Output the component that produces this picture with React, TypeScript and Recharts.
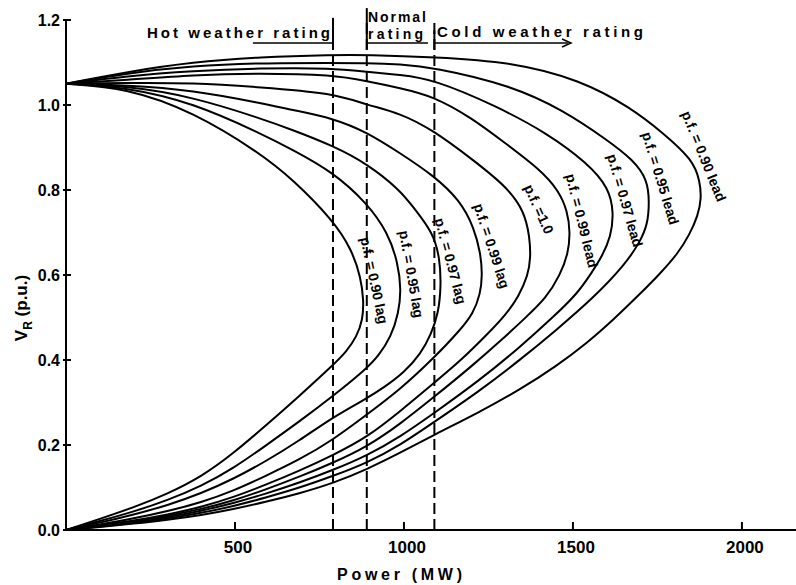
import React from 'react';
import { LineChart, Line, XAxis, YAxis, ReferenceLine, ReferenceDot, Customized } from 'recharts';

const FONT = '"Liberation Sans", Arial, Helvetica, sans-serif';

// [power MW, V_R p.u.]: upper branch, nose, lower branch
type Pt = [number, number];

const lag90: Pt[] = [
  [0, 1.05], [180, 1.04], [376, 0.984], [574, 0.887], [672, 0.824], [790, 0.729], [846, 0.659],
  [872, 0.595], [881, 0.541], [878, 0.494], [860, 0.455], [830, 0.42], [790, 0.388], [690, 0.315],
  [590, 0.245], [495, 0.18], [400, 0.125], [300, 0.085], [200, 0.053], [100, 0.026], [0, 0],
];
const lag95: Pt[] = [
  [0, 1.05], [180, 1.042], [376, 1.005], [574, 0.934], [672, 0.894], [790, 0.842], [891, 0.769],
  [952, 0.7], [982, 0.63], [992, 0.565], [984, 0.51], [962, 0.455], [925, 0.41], [890, 0.38],
  [790, 0.315], [690, 0.255], [590, 0.198], [495, 0.145], [400, 0.103], [300, 0.07], [200, 0.043],
  [100, 0.021], [0, 0],
];
const lag97: Pt[] = [
  [0, 1.05], [180, 1.045], [376, 1.019], [574, 0.969], [672, 0.941], [790, 0.904], [891, 0.862],
  [988, 0.8], [1027, 0.76], [1086, 0.7], [1106, 0.64], [1110, 0.575], [1102, 0.51], [1080, 0.46],
  [1050, 0.415], [1000, 0.37], [940, 0.335], [891, 0.31], [790, 0.266], [690, 0.21], [590, 0.161],
  [495, 0.12], [400, 0.086], [300, 0.058], [200, 0.036], [100, 0.017], [0, 0],
];
const lag99: Pt[] = [
  [0, 1.05], [180, 1.047], [376, 1.035], [574, 1.005], [672, 0.988], [790, 0.969], [891, 0.936],
  [988, 0.887], [1086, 0.835], [1166, 0.776], [1208, 0.71], [1227, 0.65], [1232, 0.6],
  [1226, 0.555], [1205, 0.51], [1166, 0.47], [1089, 0.405], [988, 0.33], [891, 0.272],
  [790, 0.212], [690, 0.165], [590, 0.127], [495, 0.092], [400, 0.065], [300, 0.044], [200, 0.027],
  [100, 0.013], [0, 0],
];
const unity: Pt[] = [
  [0, 1.05], [180, 1.052], [376, 1.052], [574, 1.042], [790, 1.028], [891, 1.0], [988, 0.981],
  [1086, 0.941], [1204, 0.871], [1305, 0.807], [1356, 0.75], [1372, 0.69], [1375, 0.64],
  [1367, 0.6], [1340, 0.55], [1300, 0.505], [1246, 0.46], [1170, 0.4], [1089, 0.346], [990, 0.28],
  [891, 0.218], [790, 0.176], [690, 0.139], [590, 0.106], [495, 0.077], [400, 0.054], [300, 0.036],
  [200, 0.022], [100, 0.011], [0, 0],
];
const lead99: Pt[] = [
  [0, 1.05], [180, 1.059], [376, 1.071], [574, 1.075], [790, 1.071], [891, 1.056], [988, 1.04],
  [1086, 1.021], [1200, 0.97], [1300, 0.91], [1400, 0.85], [1457, 0.8], [1484, 0.75], [1492, 0.7],
  [1486, 0.65], [1462, 0.6], [1420, 0.545], [1360, 0.5], [1293, 0.45], [1200, 0.385],
  [1089, 0.313], [990, 0.25], [891, 0.196], [790, 0.158], [690, 0.125], [590, 0.095], [495, 0.069],
  [400, 0.049], [300, 0.033], [200, 0.02], [100, 0.01], [0, 0],
];
const lead97: Pt[] = [
  [0, 1.05], [180, 1.068], [376, 1.08], [574, 1.087], [790, 1.087], [891, 1.078], [988, 1.071],
  [1086, 1.061], [1275, 0.997], [1423, 0.934], [1542, 0.864], [1607, 0.805], [1621, 0.745],
  [1612, 0.69], [1587, 0.645], [1555, 0.605], [1512, 0.555], [1440, 0.5], [1343, 0.43],
  [1220, 0.35], [1089, 0.275], [990, 0.22], [891, 0.175], [790, 0.141], [690, 0.111], [590, 0.085],
  [495, 0.063], [400, 0.045], [300, 0.03], [200, 0.018], [100, 0.009], [0, 0],
];
const lead95: Pt[] = [
  [0, 1.05], [180, 1.075], [376, 1.092], [574, 1.099], [790, 1.099], [891, 1.099], [988, 1.096],
  [1086, 1.089], [1314, 1.047], [1471, 0.988], [1601, 0.918], [1678, 0.871], [1721, 0.824],
  [1726, 0.77], [1721, 0.72], [1700, 0.68], [1654, 0.624], [1559, 0.545], [1450, 0.47],
  [1343, 0.4], [1220, 0.325], [1089, 0.254], [990, 0.2], [891, 0.158], [790, 0.127], [690, 0.099],
  [590, 0.076], [495, 0.056], [400, 0.04], [300, 0.027], [200, 0.016], [100, 0.008], [0, 0],
];
const lead90: Pt[] = [
  [0, 1.05], [180, 1.078], [376, 1.101], [574, 1.113], [790, 1.118], [891, 1.118], [1086, 1.113],
  [1323, 1.101], [1521, 1.059], [1669, 0.995], [1767, 0.934], [1855, 0.871], [1876, 0.82],
  [1880, 0.78], [1870, 0.74], [1845, 0.695], [1810, 0.65], [1760, 0.605], [1698, 0.555],
  [1620, 0.495], [1542, 0.44], [1450, 0.385], [1343, 0.33], [1220, 0.276], [1089, 0.224],
  [990, 0.182], [891, 0.143], [790, 0.11], [690, 0.086], [590, 0.066], [495, 0.049], [400, 0.035],
  [300, 0.024], [200, 0.015], [100, 0.007], [0, 0],
];

const curves = [lag90, lag95, lag97, lag99, unity, lead99, lead97, lead95, lead90];

// curve labels: anchor (P, V) just outside each nose, and text angle
const curveLabels = [
  { text: 'p.f. = 0.90 lag', p: 898, v: 0.585, angle: 78 },
  { text: 'p.f. = 0.95 lag', p: 1008, v: 0.6, angle: 80 },
  { text: 'p.f. = 0.97 lag', p: 1124, v: 0.63, angle: 75 },
  { text: 'p.f. = 0.99 lag', p: 1246, v: 0.665, angle: 72 },
  { text: 'p.f. =1.0', p: 1386, v: 0.75, angle: 66 },
  { text: 'p.f. = 0.99 lead', p: 1512, v: 0.725, angle: 76 },
  { text: 'p.f. = 0.97 lead', p: 1640, v: 0.772, angle: 74 },
  { text: 'p.f. = 0.95 lead', p: 1745, v: 0.824, angle: 73 },
  { text: 'p.f. = 0.90 lead', p: 1874, v: 0.875, angle: 68 },
];

const xTicks = [500, 1000, 1500, 2000];
const yTicks = [0, 0.2, 0.4, 0.6, 0.8, 1.0, 1.2];
const ratingLimits = [790, 890, 1090];
const ratingTops = [1.205, 1.228, 1.176];
const bracketLevel = 1.146;
const brackets: Pt[] = [[553, 790], [890, 1071], [1090, 1485]];

const XTick = ({ x, y, payload }: any) => (
  <g>
    <line x1={x} x2={x} y1={y} y2={y - 8} stroke="#000" strokeWidth={2} />
    <text x={x + 3} y={y + 23} textAnchor="middle" fontSize={17} fontWeight="bold" fontFamily={FONT} fill="#000">
      {payload.value}
    </text>
  </g>
);

const YTick = ({ x, y, payload }: any) => (
  <g>
    <line x1={x - 3} x2={x + 5} y1={y} y2={y} stroke="#000" strokeWidth={2} />
    <text x={x - 6} y={y + 6} textAnchor="end" fontSize={16} fontWeight="bold" fontFamily={FONT} fill="#000">
      {Number(payload.value).toFixed(1)}
    </text>
  </g>
);

const Annotations = () => (
  <g fontFamily={FONT} fontWeight="bold" fill="#000">
    <text x={147} y={38} fontSize={15} textLength={183} lengthAdjust="spacing">Hot weather rating</text>
    <text x={368} y={22} fontSize={14} textLength={58} lengthAdjust="spacing">Normal</text>
    <text x={368} y={39} fontSize={14} textLength={55} lengthAdjust="spacing">rating</text>
    <text x={437} y={37} fontSize={15} textLength={206} lengthAdjust="spacing">Cold weather rating</text>
    <path d="M562,39 L571,43 L562,47" fill="none" stroke="#000" strokeWidth={1.5} />
    <text x={337} y={580} fontSize={16} textLength={125} lengthAdjust="spacing">Power (MW)</text>
    <text transform="translate(27,308) rotate(-90)" textAnchor="middle" fontSize={17}>
      V<tspan dy={5} fontSize={12}>R</tspan>
      <tspan dy={-5}> (p.u.)</tspan>
    </text>
  </g>
);

export default function App() {
  return (
    <div style={{ position: 'absolute', left: 0, top: 0, width: 796, height: 585, background: '#fff' }}>
      <LineChart width={796} height={585} margin={{ top: 20, right: 0, bottom: 25, left: 0 }}>
        <XAxis
          type="number"
          dataKey="p"
          domain={[0, 2160]}
          ticks={xTicks}
          allowDataOverflow
          height={30}
          tickSize={0}
          tickMargin={0}
          tickLine={false}
          tick={<XTick />}
          axisLine={{ stroke: '#000', strokeWidth: 2 }}
        />
        <YAxis
          type="number"
          dataKey="v"
          domain={[0, 1.2]}
          ticks={yTicks}
          allowDataOverflow
          width={66}
          tickSize={0}
          tickMargin={0}
          tickLine={false}
          tick={<YTick />}
          axisLine={{ stroke: '#000', strokeWidth: 2 }}
        />
        {ratingLimits.map((x) => (
          <ReferenceLine key={`d${x}`} x={x} stroke="#000" strokeWidth={2} strokeDasharray="11 5" />
        ))}
        {ratingLimits.map((x, i) => (
          <ReferenceLine
            key={`t${x}`}
            segment={[{ x, y: 1.13 }, { x, y: ratingTops[i] }]}
            stroke="#000"
            strokeWidth={2}
            ifOverflow="visible"
          />
        ))}
        {brackets.map(([a, b]) => (
          <ReferenceLine
            key={`b${a}`}
            segment={[{ x: a, y: bracketLevel }, { x: b, y: bracketLevel }]}
            stroke="#000"
            strokeWidth={1.5}
            ifOverflow="visible"
          />
        ))}
        {curves.map((c, i) => (
          <Line
            key={i}
            data={c.map(([p, v]) => ({ p, v }))}
            dataKey="v"
            type="basis"
            stroke="#000"
            strokeWidth={2}
            dot={false}
            activeDot={false}
            isAnimationActive={false}
          />
        ))}
        {curveLabels.map((l) => (
          <ReferenceDot
            key={l.text}
            x={l.p}
            y={l.v}
            r={0}
            fill="none"
            stroke="none"
            ifOverflow="visible"
            label={(props: any) => {
              const vb = props.viewBox || {};
              const cx = (vb.x ?? 0) + (vb.width ?? 0) / 2;
              const cy = (vb.y ?? 0) + (vb.height ?? 0) / 2;
              return (
                <text
                  transform={`translate(${cx},${cy}) rotate(${l.angle})`}
                  textAnchor="middle"
                  fontSize={14}
                  fontWeight="bold"
                  fontFamily={FONT}
                  fill="#000"
                >
                  {l.text}
                </text>
              );
            }}
          />
        ))}
        <Customized component={Annotations} />
      </LineChart>
    </div>
  );
}
